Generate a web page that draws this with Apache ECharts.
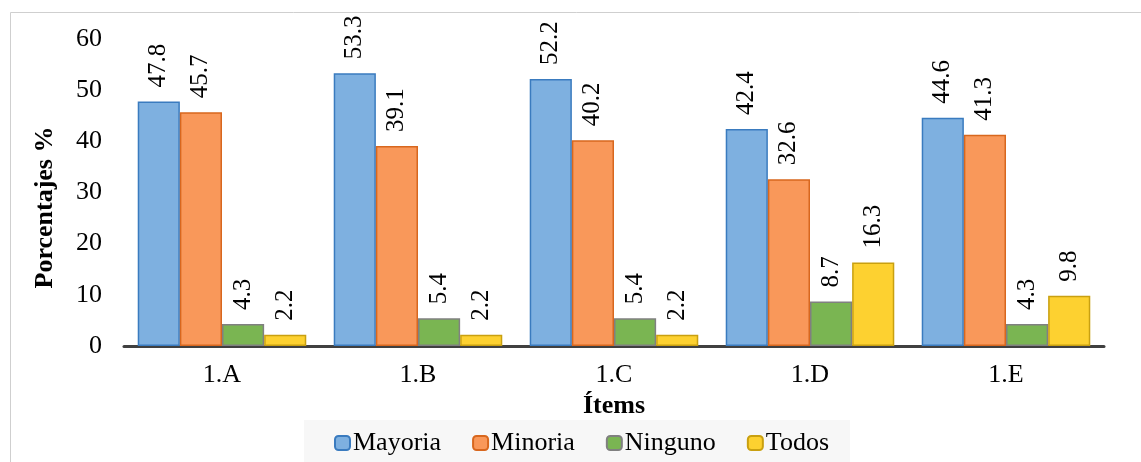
<!DOCTYPE html>
<html>
<head>
<meta charset="utf-8">
<script src="https://cdn.jsdelivr.net/npm/echarts@6/dist/echarts.min.js"></script>
<style>
  html, body { margin: 0; padding: 0; background: #fff; }
  #chart { width: 1141px; height: 462px; }
</style>
</head>
<body>
<div id="chart"></div>
<script>
// Items and percentage shares per answer group
const categories = ['1.A', '1.B', '1.C', '1.D', '1.E'];
const mayoria = [47.8, 53.3, 52.2, 42.4, 44.6];
const minoria = [45.7, 39.1, 40.2, 32.6, 41.3];
const ninguno = [4.3, 5.4, 5.4, 8.7, 4.3];
const todos = [2.2, 2.2, 2.2, 16.3, 9.8];
const yTicks = [0, 10, 20, 30, 40, 50, 60];

const FONT = '"Liberation Serif", "Times New Roman", serif';

function barSeries(name, data, fill, border) {
  return {
    name: name,
    type: 'bar',
    data: data,
    barGap: 0,
    barCategoryGap: '14%',
    itemStyle: { color: fill, borderColor: border, borderWidth: 1.5 },
    label: {
      show: true,
      position: 'top',
      rotate: 90,
      align: 'left',
      verticalAlign: 'middle',
      distance: 14,
      fontFamily: FONT,
      fontSize: 25,
      color: '#000',
      formatter: p => p.value.toFixed(1)
    }
  };
}

const chart = echarts.init(document.getElementById('chart'));
chart.setOption({
  animation: false,
  backgroundColor: '#fff',
  graphic: [{
    type: 'rect',
    shape: { x: 10.5, y: 12.5, width: 1140, height: 460 },
    style: { fill: 'none', stroke: '#cfcfcf', lineWidth: 1 },
    silent: true
  }],
  legend: {
    left: 304,
    top: 420,
    padding: [10, 21, 12, 30],
    backgroundColor: '#f7f7f7',
    itemWidth: 15,
    itemHeight: 14,
    itemGap: 31,
    textStyle: { fontFamily: FONT, fontSize: 26, color: '#000', padding: [0, 0, 0, -2] },
    data: ['Mayoria', 'Minoria', 'Ninguno', 'Todos']
  },
  grid: { left: 124, right: 37, top: 39, bottom: 116 },
  xAxis: {
    type: 'category',
    data: categories,
    name: 'Ítems',
    nameLocation: 'middle',
    nameGap: 44,
    nameTextStyle: { fontFamily: FONT, fontSize: 26, fontWeight: 'bold', color: '#000' },
    axisLine: { show: true, lineStyle: { color: '#404040', width: 3 } },
    axisTick: { show: false },
    axisLabel: { fontFamily: FONT, fontSize: 26, color: '#000', margin: 16 }
  },
  yAxis: {
    type: 'value',
    min: yTicks[0],
    max: yTicks[yTicks.length - 1],
    interval: 10,
    name: 'Porcentajes %',
    nameLocation: 'middle',
    nameGap: 66,
    nameRotate: 90,
    nameTextStyle: { fontFamily: FONT, fontSize: 26, fontWeight: 'bold', color: '#000', padding: [0, 30, 0, 0] },
    axisLine: { show: false },
    axisTick: { show: false },
    splitLine: { show: false },
    axisLabel: { fontFamily: FONT, fontSize: 26, color: '#000', margin: 22 }
  },
  series: [
    barSeries('Mayoria', mayoria, '#7eb0e0', '#3a7bbf'),
    barSeries('Minoria', minoria, '#f9985a', '#d8671e'),
    barSeries('Ninguno', ninguno, '#7ab552', '#808080'),
    barSeries('Todos', todos, '#fdd130', '#c9a010')
  ]
});
</script>
</body>
</html>
